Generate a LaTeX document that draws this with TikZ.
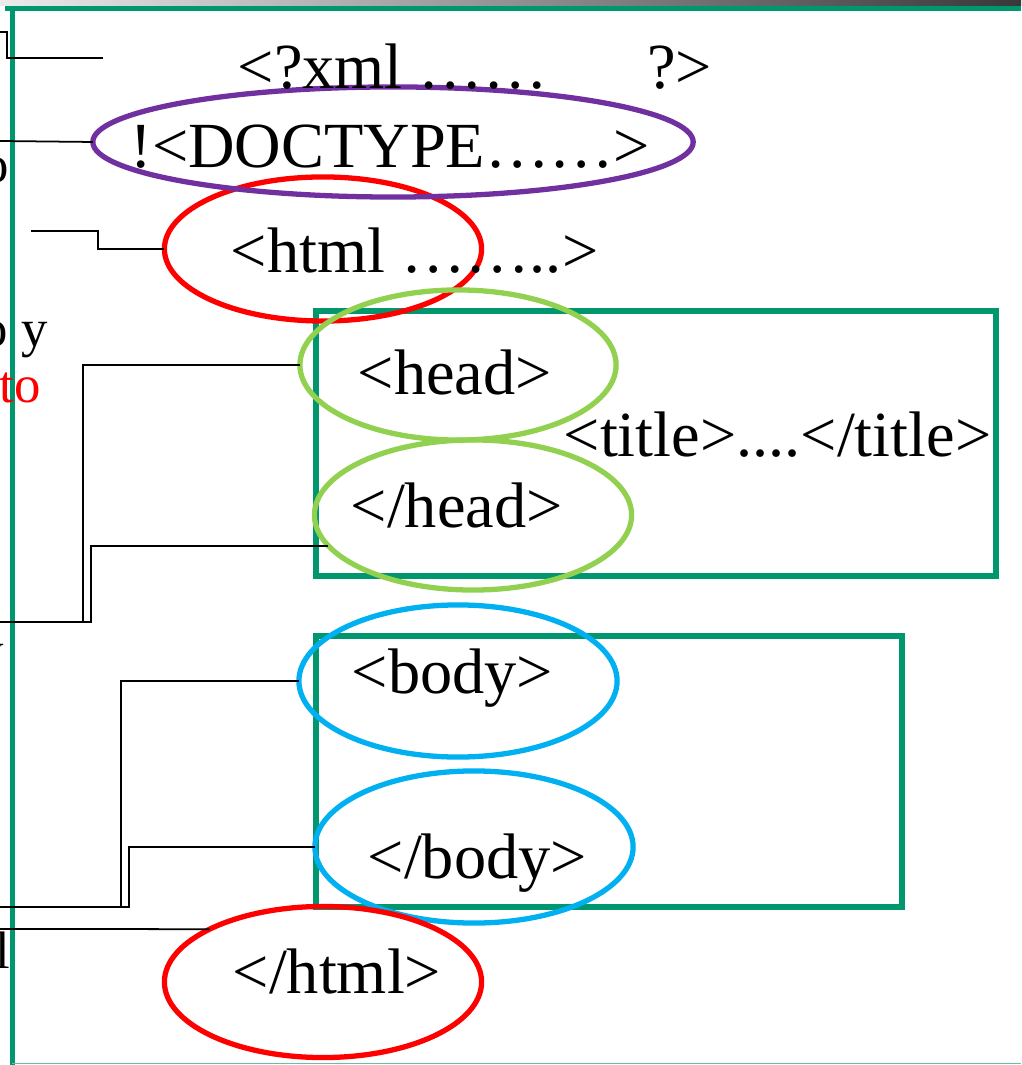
\documentclass[tikz,border=0pt]{standalone}
\usepackage{fontspec}
\setmainfont{Liberation Serif}
\usetikzlibrary{shapes.geometric}
\definecolor{slidegreen}{RGB}{0,150,110}
\definecolor{tagpurple}{RGB}{112,48,160}
\definecolor{tagred}{RGB}{255,0,0}
\definecolor{taglime}{RGB}{146,208,80}
\definecolor{tagblue}{RGB}{0,176,240}

\begin{document}
\begin{tikzpicture}[x=0.01cm,y=-0.01cm,
  tag/.style={anchor=base west,inner sep=0pt,font=\fontsize{18.3}{22}\selectfont},
  side/.style={anchor=base west,inner sep=0pt,font=\fontsize{15}{18}\selectfont},
  ring/.style n args={3}{draw=#1,ellipse,line width=1.5pt,inner sep=0pt,outer sep=0pt,
    minimum width=#2,minimum height=#3},
  frame/.style={draw=slidegreen,line width=1.5pt},
  wire/.style={line width=0.5pt}]

  % Page (clips the cut-off words on the left)
  \clip (0,0) rectangle (1021,1065);

  % Slide frame: grey bar, green rules
  \shade[left color=black!8, right color=black!78] (0,0) rectangle (1021,6);
  \draw[frame] (5,8.5) -- (1021,8.5);
  \draw[frame] (12.5,8.5) -- (12.5,1065);
  \draw[slidegreen!60, line width=0.3pt] (12,1063.5) -- (1021,1063.5);

  % Boxes round head and body
  \draw[frame] (316,311) rectangle (996,576);
  \draw[frame] (316,636) rectangle (902,907);

  % Free ends of the wires at the left margin
  \coordinate (xmlIn)     at (0,32);
  \coordinate (xmlBend)   at (7,58);
  \coordinate (xmlEnd)    at (103,58);
  \coordinate (docIn)     at (0,141);
  \coordinate (htmlIn)    at (31,231);
  \coordinate (htmlBend)  at (98,231);
  \coordinate (headIn)    at (0,622);
  \coordinate (headBendO) at (83,622);
  \coordinate (headBendC) at (91,622);
  \coordinate (bodyIn)    at (0,907);
  \coordinate (bodyBendO) at (121,907);
  \coordinate (bodyBendC) at (129,907);
  \coordinate (htmlCIn)   at (0,929);

  % Rings round the tags
  \node[ring={tagred}{3.17cm}{1.44cm}]    (htmlO)   at (323,249) {};
  \node[ring={tagpurple}{6cm}{1.1cm}]     (doctype) at (393,142) {};
  \node[ring={taglime}{3.16cm}{1.5cm}]    (headO)   at (458,365) {};
  \node[ring={taglime}{3.17cm}{1.5cm}]    (headC)   at (473,515) {};
  \node[ring={tagblue}{3.18cm}{1.52cm}]   (bodyO)   at (458,681) {};
  \node[ring={tagblue}{3.18cm}{1.52cm}]   (bodyC)   at (474,847) {};
  \node[ring={tagred}{3.17cm}{1.51cm}]    (htmlC)   at (323,982) {};

  % Wires
  \draw[wire] (xmlIn) -| (xmlBend) -- (xmlEnd);
  \draw[wire] (docIn) -- (doctype.west);
  \draw[wire] (htmlIn) -- (htmlBend) |- (htmlO.west);
  \draw[wire] (headO.west) -| (headBendO) -- (headIn);
  \draw[wire] (headC.192) -| (headBendC) -- (headIn);
  \draw[wire] (bodyO.west) -| (bodyBendO) -- (bodyIn);
  \draw[wire] (bodyC.west) -| (bodyBendC) -- (bodyIn);
  \draw[wire] (htmlCIn) -- (htmlC.155);

  % Tags
  \node[tag] (xmlT)    at (237,89)  {<?xml …… \hspace{1.3em}?>};
  \node[tag] (docT)    at (130,168) {!<DOCTYPE……>};
  \node[tag] (htmlT)   at (230,273) {<html ……..>};
  \node[tag] (headT)   at (357,395) {<head>};
  \node[tag] (titleT)  at (563,457) {<title>....</title>};
  \node[tag] (headCT)  at (350,528) {</head>};
  \node[tag] (bodyT)   at (351,693) {<body>};
  \node[tag] (bodyCT)  at (367,878) {</body>};
  \node[tag] (htmlCT)  at (232,993) {</html>};

  % Cut-off words at the left edge
  \node[side]     (frag1) at (-18,183) {o};
  \node[side]     (frag2) at (-19,347) {o y};
  \node[side,red] (frag3) at (-1,403)  {to};
  \node[side]     (frag4) at (-23,668) {y};
  \node[side]     (frag5) at (-5,968)  {l};

\end{tikzpicture}
\end{document}
